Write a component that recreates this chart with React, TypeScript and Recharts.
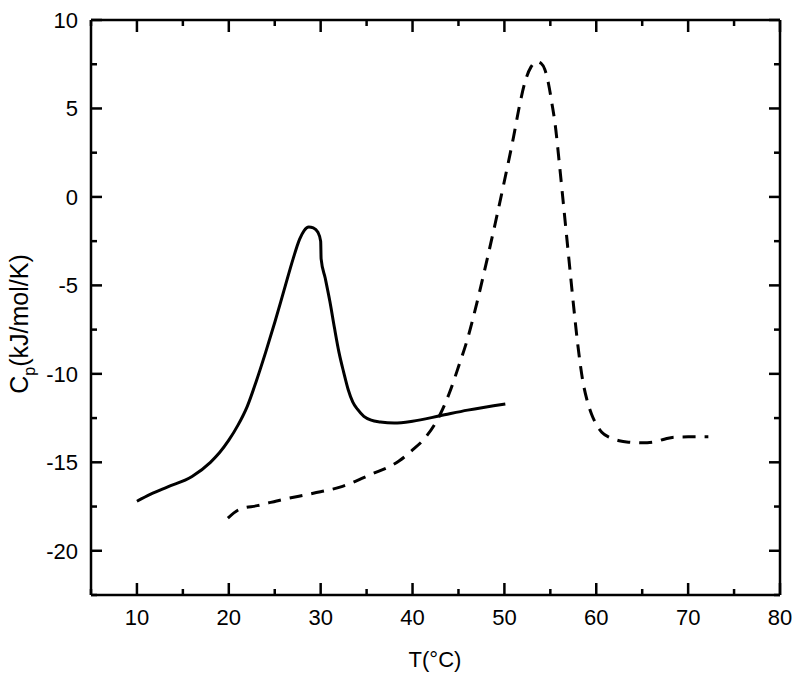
import { LineChart, Line, XAxis, YAxis } from "recharts";

// solid curve
const solidT = [10, 11.5, 13.3, 16, 18, 19, 20, 21, 22, 23, 24, 25, 26, 27, 27.7, 28.2, 28.7, 29.2, 29.7, 30.0, 30.05, 30.5, 31, 31.5, 32, 32.5, 33, 33.5, 34, 34.7, 35.5, 36.5, 38, 40, 43, 46, 50.1];
const solidCp = [-17.2, -16.8, -16.4, -15.8, -15.0, -14.45, -13.75, -12.9, -11.85, -10.4, -8.8, -7.1, -5.3, -3.5, -2.4, -1.9, -1.7, -1.75, -2.0, -2.5, -3.5, -4.6, -5.9, -7.4, -8.8, -9.9, -10.9, -11.6, -12.0, -12.4, -12.62, -12.72, -12.78, -12.68, -12.37, -12.05, -11.7];

// dashed curve
const dashT = [19.9, 21.2, 23.1, 25.9, 29.2, 32.1, 35.4, 38.6, 40, 41.4, 43, 44, 45, 46, 47, 48, 49, 50, 51, 51.7, 52.3, 52.9, 53.5, 54.0, 54.4, 54.8, 55.2, 55.5, 56.0, 56.5, 57.0, 57.5, 58.0, 58.5, 59.0, 59.5, 60.0, 60.6, 61.5, 62.5, 63.5, 65.0, 66.4, 67.5, 68.5, 70, 72.2];
const dashCp = [-18.15, -17.65, -17.45, -17.1, -16.75, -16.4, -15.7, -14.9, -14.3, -13.6, -12.3, -11.1, -9.6, -8.0, -6.0, -3.8, -1.5, 0.9, 3.4, 5.3, 6.6, 7.35, 7.65, 7.55, 7.2, 6.4, 5.2, 4.2, 1.8, -0.8, -3.4, -6.0, -8.4, -10.3, -11.5, -12.3, -12.85, -13.3, -13.6, -13.78, -13.86, -13.9, -13.84, -13.68, -13.58, -13.56, -13.56];

const xTicks = [5, 10, 15, 20, 25, 30, 35, 40, 45, 50, 55, 60, 65, 70, 75, 80];
const yTicks = [-22.5, -20, -17.5, -15, -12.5, -10, -7.5, -5, -2.5, 0, 2.5, 5, 7.5, 10];

const solid = solidT.map((t, i) => ({ t, cp: solidCp[i] }));
const dashed = dashT.map((t, i) => ({ t, cp: dashCp[i] }));

const font = "'Liberation Sans', Arial, sans-serif";
const ink = "#000";

function BottomTick(p: any) {
  const { x, y, payload } = p;
  const major = payload.value % 10 === 0;
  return (
    <g>
      <line x1={x} x2={x} y1={y} y2={y - (major ? 12 : 6)} stroke={ink} strokeWidth={2.5} />
      {major && (
        <text x={x} y={y + 30} textAnchor="middle" fontSize={22} fontFamily={font} fill={ink}>
          {payload.value}
        </text>
      )}
    </g>
  );
}

function TopTick(p: any) {
  const { x, y, payload } = p;
  const major = payload.value % 10 === 0;
  return <line x1={x} x2={x} y1={y} y2={y + (major ? 12 : 6)} stroke={ink} strokeWidth={2.5} />;
}

function LeftTick(p: any) {
  const { x, y, payload } = p;
  const major = payload.value % 5 === 0;
  return (
    <g>
      <line x1={x} x2={x + (major ? 11 : 6)} y1={y} y2={y} stroke={ink} strokeWidth={2.5} />
      {major && (
        <text x={x - 13} y={y} dy="0.36em" textAnchor="end" fontSize={22} fontFamily={font} fill={ink}>
          {payload.value}
        </text>
      )}
    </g>
  );
}

function RightTick(p: any) {
  const { x, y, payload } = p;
  const major = payload.value % 5 === 0;
  return <line x1={x} x2={x - (major ? 11 : 6)} y1={y} y2={y} stroke={ink} strokeWidth={2.5} />;
}

const axisLine = { stroke: ink, strokeWidth: 2.5 };

export default function App() {
  return (
    <div style={{ position: "relative", width: 800, height: 675, background: "#fff" }}>
      <style>{`body{margin:0}`}</style>
      <LineChart width={800} height={675} margin={{ top: 10, right: 10, bottom: 20, left: 11 }}>
        <XAxis xAxisId="b" dataKey="t" type="number" domain={[5, 80]} ticks={xTicks} interval={0}
          allowDataOverflow height={60} tickSize={0} tickMargin={0} tickLine={false}
          axisLine={axisLine} tick={<BottomTick />} />
        <XAxis xAxisId="t" orientation="top" dataKey="t" type="number" domain={[5, 80]} ticks={xTicks}
          interval={0} allowDataOverflow height={10} tickSize={0} tickMargin={0} tickLine={false}
          axisLine={axisLine} tick={<TopTick />} />
        <YAxis yAxisId="l" type="number" domain={[-22.5, 10]} ticks={yTicks} interval={0}
          allowDataOverflow width={80} tickSize={0} tickMargin={0} tickLine={false}
          axisLine={axisLine} tick={<LeftTick />} />
        <YAxis yAxisId="r" orientation="right" type="number" domain={[-22.5, 10]} ticks={yTicks}
          interval={0} allowDataOverflow width={10} tickSize={0} tickMargin={0} tickLine={false}
          axisLine={axisLine} tick={<RightTick />} />
        <Line xAxisId="b" yAxisId="l" data={solid} dataKey="cp" type="monotone" stroke={ink}
          strokeWidth={3} dot={false} isAnimationActive={false} />
        <Line xAxisId="b" yAxisId="l" data={dashed} dataKey="cp" type="monotone" stroke={ink}
          strokeWidth={3} strokeDasharray="13 9" dot={false} isAnimationActive={false} />
      </LineChart>
      <div style={{ position: "absolute", left: 435, top: 660, transform: "translate(-50%, -50%)",
        fontFamily: font, fontSize: 22, whiteSpace: "nowrap" }}>
        T(°C)
      </div>
      <div style={{ position: "absolute", left: 22, top: 324, transform: "translate(-50%, -50%) rotate(-90deg)",
        fontFamily: font, fontSize: 25, whiteSpace: "nowrap" }}>
        C<span style={{ fontSize: 16, verticalAlign: -7 }}>p</span>(kJ/mol/K)
      </div>
    </div>
  );
}
